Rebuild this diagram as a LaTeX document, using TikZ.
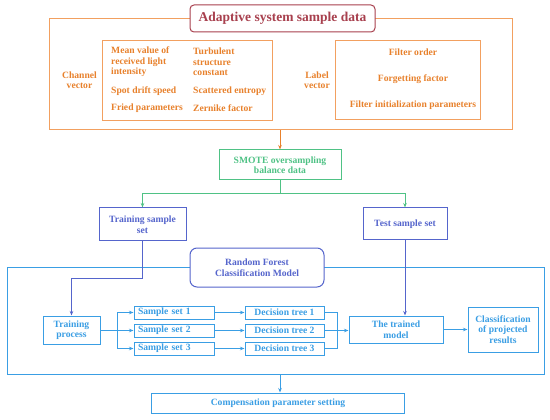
\documentclass[tikz,border=0pt]{standalone}
\usepackage{fontspec}
\setmainfont{Liberation Serif}
\usetikzlibrary{arrows.meta,positioning,calc}
\definecolor{orangeline}{HTML}{F2A060}
\definecolor{orangetext}{HTML}{E8812C}
\definecolor{titlered}{HTML}{A8404E}
\definecolor{smotegreen}{HTML}{4FC285}
\definecolor{setblue}{HTML}{5565CC}
\definecolor{forestblue}{HTML}{3A9EE4}

\tikzset{
  box/.style={draw, line width=1pt, inner sep=1pt, align=center,
    font=\bfseries\fontsize{9.6}{10.5}\selectfont},
  setbox/.style={box, draw=forestblue, text=forestblue, minimum height=13pt,
    text width=72pt, align=left, inner xsep=4pt},
  treebox/.style={box, draw=forestblue, text=forestblue, minimum width=79pt, minimum height=13pt},
  txt/.style={inner sep=0pt, align=left, text=orangetext,
    font=\bfseries\fontsize{9.6}{10.5}\selectfont},
  link/.style={line width=1pt, -{Stealth[length=4.5pt,width=3.5pt]}},
  plain/.style={line width=1pt}
}

\begin{document}
\begin{tikzpicture}[x=1pt,y=-1pt]
\useasboundingbox (0,0) rectangle (550,420);
\fill[white] (0,0) rectangle (550,420);

% sample data block
\node[box, draw=orangeline, minimum width=463pt, minimum height=111pt] (outer) at (280.5,74.5) {};
\node[box, draw=titlered, text=titlered, fill=white, rounded corners=4pt,
  minimum width=185pt, minimum height=27pt, font=\bfseries\fontsize{13.5}{15}\selectfont] (title) at (282.5,18.5) {Adaptive system sample data};
\node[txt, align=center] (chanlab) at (79.5,80) {Channel\\vector};
\node[box, draw=orangeline, minimum width=170pt, minimum height=80pt] (chanbox) at (187,81) {};
\node[txt, anchor=west] (mean) at (111,62) {Mean value of\\received light\\intensity};
\node[txt, anchor=west] (turb) at (193,62) {Turbulent\\structure\\constant};
\node[txt, anchor=west] (spot) at (111,91) {Spot drift speed};
\node[txt, anchor=west] (scat) at (193,91) {Scattered entropy};
\node[txt, anchor=west] (fried) at (111,108.5) {Fried parameters};
\node[txt, anchor=west] (zern) at (193,108.5) {Zernike factor};
\node[txt, align=center] (lablab) at (317,80) {Label\\vector};
\node[box, draw=orangeline, minimum width=145pt, minimum height=79pt] (labbox) at (407.5,80.5) {};
\node[txt] (order) at (413,52) {Filter order};
\node[txt] (forget) at (413,79) {Forgetting factor};
\node[txt] (init) at (413,105) {Filter initialization parameters};

% balancing and splitting
\node[box, draw=smotegreen, text=smotegreen, minimum width=122pt, minimum height=30pt] (smote) at (280,165) {SMOTE oversampling\\balance data};
\node[box, draw=setblue, text=setblue, minimum width=87pt, minimum height=33pt] (train) at (142.5,224.5) {Training sample\\set};
\node[box, draw=setblue, text=setblue, minimum width=84pt, minimum height=32pt] (test) at (405,224) {Test sample set};
\coordinate (split) at (280,194);

\draw[link, orangetext] (outer.south -| smote.north) -- (smote.north);
\draw[plain, smotegreen] (smote.south) -- (split);
\draw[link, smotegreen] (split) -| (train.north);
\draw[link, smotegreen] (split) -| (test.north);

% random forest block
\node[box, draw=forestblue, minimum width=537pt, minimum height=107pt] (forest) at (275.5,320.5) {};
\node[box, draw=setblue, text=setblue, fill=white, rounded corners=7pt,
  minimum width=134pt, minimum height=39pt] (rfm) at (257,267.5) {Random Forest\\Classification Model};

\node[box, draw=forestblue, text=forestblue, minimum width=57pt, minimum height=28pt] (tproc) at (71.5,330) {Training\\process};
\node[setbox] (ss1) at (174,312.5) {Sample set 1};
\node[setbox] (ss2) at (174,330.5) {Sample set 2};
\node[setbox] (ss3) at (174,348.5) {Sample set 3};
\node[treebox] (dt1) at (284.5,312.5) {Decision tree 1};
\node[treebox] (dt2) at (284.5,330.5) {Decision tree 2};
\node[treebox] (dt3) at (284.5,348.5) {Decision tree 3};
\node[box, draw=forestblue, text=forestblue, minimum width=94pt, minimum height=27pt] (model) at (396,329.5) {The trained\\model};
\node[box, draw=forestblue, text=forestblue, minimum width=70pt, minimum height=45pt] (result) at (503,329.5) {Classification\\of projected\\results};
\node[box, draw=forestblue, text=forestblue, minimum width=253pt, minimum height=20pt] (comp) at (278,403) {Compensation parameter setting};
\coordinate (fork) at (117,330.5);
\coordinate (join) at (337,330.5);
\coordinate (bend) at (142.5,278);

\draw[link, setblue] (train.south) -- (bend) -| (tproc.north);
\draw[link, setblue] (test.south) -- (test.south |- model.north);

\draw[link, forestblue] (tproc.east |- ss2.west) -- (ss2.west);
\draw[link, forestblue] (fork) |- (ss1.west);
\draw[link, forestblue] (fork) |- (ss3.west);
\draw[link, forestblue] (ss1) -- (dt1);
\draw[link, forestblue] (ss2) -- (dt2);
\draw[link, forestblue] (ss3) -- (dt3);
\draw[plain, forestblue] (dt1.east) -| (join);
\draw[plain, forestblue] (dt3.east) -| (join);
\draw[link, forestblue] (dt2.east) -- (dt2.east -| model.west);
\draw[link, forestblue] (model.east) -- (result.west |- model.east);
\draw[link, forestblue] (forest.south -| 280,0) -- (comp.north -| 280,0);
\end{tikzpicture}
\end{document}
